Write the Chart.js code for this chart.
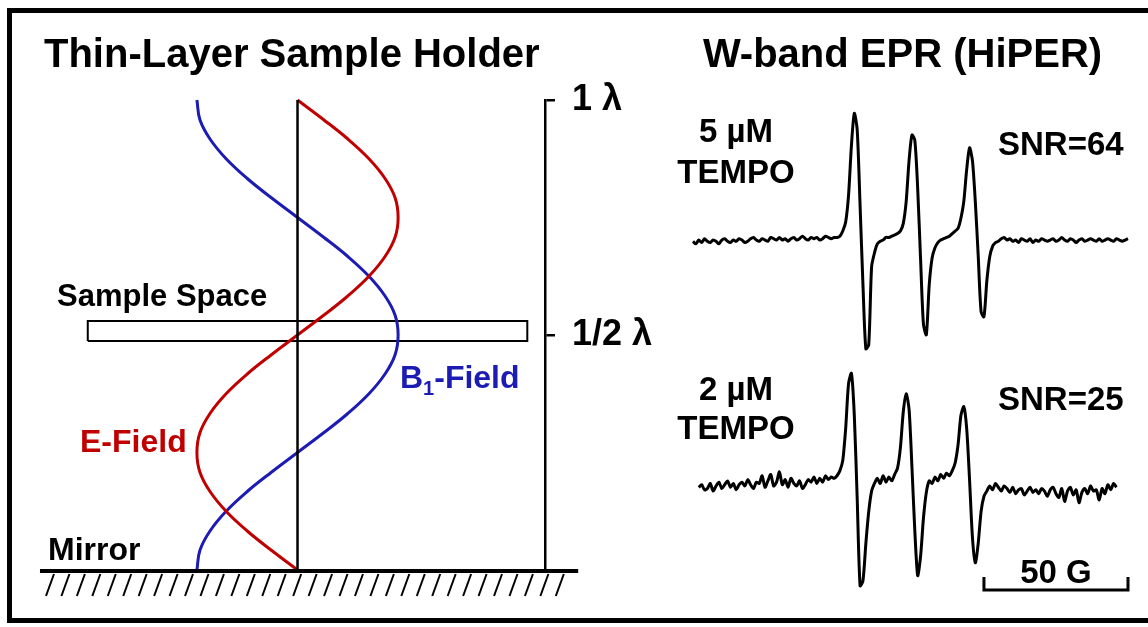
<!DOCTYPE html>
<html>
<head>
<meta charset="utf-8">
<script src="https://cdn.jsdelivr.net/npm/chart.js@4.4.1/dist/chart.umd.min.js"></script>
<style>
  html, body { margin: 0; padding: 0; background: #fff; }
  #wrap { position: relative; width: 1148px; height: 627px; overflow: hidden; }
  #frame { position: absolute; left: 7px; top: 8px; width: 1200px; height: 605px; border: 5px solid #000; }
  #holder { position: absolute; left: 0; top: 0; width: 660px; height: 627px; }
  #epr { position: absolute; left: 660px; top: 0; width: 488px; height: 627px; }
</style>
</head>
<body>
<div id="wrap">
  <div id="frame"></div>
  <div id="holder"><canvas id="holderChart"></canvas></div>
  <div id="epr"><canvas id="eprChart"></canvas></div>
</div>
<script>
// ---- left panel: standing wave in the sample holder ----
// position above the mirror, in wavelengths
const lambdaPos = [0, 0.042, 0.083, 0.125, 0.167, 0.208, 0.25, 0.292, 0.333, 0.375, 0.417, 0.458,
  0.5, 0.542, 0.583, 0.625, 0.667, 0.708, 0.75, 0.792, 0.833, 0.875, 0.917, 0.958, 1]
// relative field amplitude
const eField = [0, -0.26, -0.5, -0.71, -0.87, -0.97, -1, -0.97, -0.87, -0.71, -0.5, -0.26,
  0, 0.26, 0.5, 0.71, 0.87, 0.97, 1, 0.97, 0.87, 0.71, 0.5, 0.26, 0]
const b1Field = [-1, -0.97, -0.87, -0.71, -0.5, -0.26, 0, 0.26, 0.5, 0.71, 0.87, 0.97,
  1, 0.97, 0.87, 0.71, 0.5, 0.26, 0, -0.26, -0.5, -0.71, -0.87, -0.97, -1]
const axisField = [0, 0]
const axisLambda = [0, 1]
// sample space slab (field units x wavelengths)
const sampleField = [-2.085, 2.284, 2.284, -2.085, -2.085]
const sampleLambda = [0.487, 0.487, 0.530, 0.530, 0.487]
const mirrorSpan = [-2.56, 2.79]
const lambdaTicks = [0.5, 1]
const lambdaLabels = ['1/2 λ', '1 λ']

// ---- right panel: W-band EPR spectra, 1 G steps ----
const fieldStep = 1
const top5Start = 0
const tempo5uM = [
  -1, -3, 0, -2, 1, -1, -2, 0, -1, -3,
  0, 1, -1, -2, 0, -1, 1, 0, -2, -1,
  1, 2, 0, -1, 1, 0, -1, 2, 1, 0,
  2, 0, 1, -1, 1, 2, 0, 1, 3, 1,
  0, 2, 1, 2, 0, 1, 3, 2, 1, 2,
  2, 3, 7, 14, 35, 74, 99, 86, 27, -35,
  -85, -82, -21, -10, -3, -1, 0, 2, 2, 3,
  4, 5, 7, 13, 30, 62, 82, 78, 40, -15,
  -66, -74, -35, -14, -6, -2, 0, 1, 2, 3,
  5, 7, 9, 17, 30, 55, 72, 62, 30, -12,
  -56, -60, -32, -13, -5, -2, -1,
  1, 2, 0, 1, -1, 0, -2, 1, 0, -1,
  1, -2, 0, -1, 1, 0, -1, 0, 1, -1,
  0, 2, 0, -1, 1, 0, -2, 0, 1, -1,
  0, 1, 0, -1, 1, -1, 0, 1, 0, -1,
  1, 0, -1, 0, 1
]
const bot2Start = 2
const tempo2uM = [
  -1, 1, -3, -2, 2, -4, 0, 3, -2, 1,
  4, -1, 2, -3, 1, 3, 0, 5, 1, -2,
  3, 2, 8, -1, 4, 9, 0, 3, 11, 1,
  5, -1, 6, 2, 0, 4, -2, 1, 5, 3,
  7, 2, 6, 3, 8, 5, 7,
  6, 8, 12, 20, 45, 80, 88, 55, -10, -78,
  -74, -45, -20, -4, 2, 6, 2, 8, 3, 7,
  4, 9, 14, 30, 58, 72, 60, 15, -35, -70,
  -55, -25, -5, 4, 2, 7, 4, 9, 6, 10,
  8, 12, 18, 32, 55, 62, 45, 5, -40, -60,
  -45, -20, -8, -4,
  0, -3, 2, -1, -4, 0, -2, -5, -1, -6,
  -3, -2, -7, -4, -1, -5, -3, -6, -2, -4,
  -8, -3, -1, -6, -9, -2, -12, -4, -1, -7,
  -3, -13, -5, -2, -6, 0, -4, -3, -11, -2,
  -6, 1, -3, 2, -1
]
const scaleBarG = [101, 151]

const FONT = '"Liberation Sans", Arial, sans-serif'

function label(ctx, text, x, y, size, color, align) {
  ctx.font = 'bold ' + size + 'px ' + FONT
  ctx.fillStyle = color || '#000'
  ctx.textAlign = align || 'left'
  ctx.textBaseline = 'alphabetic'
  ctx.fillText(text, x, y)
}

const holderDecor = {
  id: 'holderDecor',
  afterDraw(chart) {
    const { ctx, scales: { x, y } } = chart
    const y0 = y.getPixelForValue(0)
    const xl = x.getPixelForValue(mirrorSpan[0])
    const xr = x.getPixelForValue(mirrorSpan[1])
    ctx.save()
    ctx.strokeStyle = '#000'
    ctx.lineWidth = 4
    ctx.beginPath()
    ctx.moveTo(xl, y0 + 1)
    ctx.lineTo(xr, y0 + 1)
    ctx.stroke()
    // hatching under the mirror
    ctx.lineWidth = 2
    for (let hx = xl + 6; hx < xr - 20; hx += 15.45) {
      ctx.beginPath()
      ctx.moveTo(hx + 8, y0 + 4)
      ctx.lineTo(hx, y0 + 26)
      ctx.stroke()
    }
    label(ctx, 'Sample Space', 57, 306, 31)
    label(ctx, 'Mirror', 48, 560, 32)
    label(ctx, 'E-Field', 80, 452, 32, '#c00000')
    // B1-Field with subscript
    const blue = '#1c1cb4'
    label(ctx, 'B', 400, 388, 32, blue)
    let w = ctx.measureText('B').width
    label(ctx, '1', 400 + w, 395, 20, blue)
    w += ctx.measureText('1').width
    label(ctx, '-Field', 400 + w, 388, 32, blue)
    ctx.restore()
  }
}

const holder = new Chart(document.getElementById('holderChart'), {
  type: 'scatter',
  data: {
    datasets: [
      {
        label: 'axis',
        data: axisField.map((v, i) => ({ x: v, y: axisLambda[i] })),
        borderColor: '#000',
        borderWidth: 2.5,
      },
      {
        label: 'E-Field',
        data: lambdaPos.map((z, i) => ({ x: eField[i], y: z })),
        borderColor: '#c00000',
        borderWidth: 3,
        tension: 0.4,
      },
      {
        label: 'B1-Field',
        data: lambdaPos.map((z, i) => ({ x: b1Field[i], y: z })),
        borderColor: '#1c1cb4',
        borderWidth: 3,
        tension: 0.4,
      },
      {
        label: 'Sample Space',
        data: sampleField.map((v, i) => ({ x: v, y: sampleLambda[i] })),
        borderColor: '#000',
        borderWidth: 2,
      },
    ].map(d => Object.assign({ showLine: true, pointRadius: 0, clip: false }, d)),
  },
  options: {
    responsive: true,
    maintainAspectRatio: false,
    animation: false,
    devicePixelRatio: 1,
    layout: { padding: { left: 44, right: 0, top: 32, bottom: 57 } },
    plugins: {
      legend: { display: false },
      tooltip: { enabled: false },
      title: {
        display: true,
        text: 'Thin-Layer Sample Holder',
        align: 'start',
        color: '#000',
        font: { family: FONT, size: 40, weight: 'bold' },
        padding: { top: 0, bottom: 20 },
      },
    },
    scales: {
      x: { type: 'linear', min: -2.52, max: 2.46, display: false },
      y: {
        type: 'linear',
        position: 'right',
        min: 0,
        max: 1,
        afterBuildTicks: s => { s.ticks = lambdaTicks.map(v => ({ value: v })) },
        afterFit: s => { s.width = 115 },
        ticks: {
          callback: (v, i) => lambdaLabels[i],
          color: '#000',
          font: { family: FONT, size: 36, weight: 'bold' },
          padding: 17,
        },
        grid: { drawOnChartArea: false, drawTicks: true, tickLength: 10, color: '#000', lineWidth: 2.5 },
        border: { display: true, color: '#000', width: 2.5 },
      },
    },
  },
  plugins: [holderDecor],
})

const eprDecor = {
  id: 'eprDecor',
  afterDraw(chart) {
    const { ctx, scales: { x } } = chart
    ctx.save()
    label(ctx, '5 µM', 76, 142, 33, '#000', 'center')
    label(ctx, 'TEMPO', 76, 183, 33, '#000', 'center')
    label(ctx, 'SNR=64', 338, 155, 33)
    label(ctx, '2 µM', 76, 400, 33, '#000', 'center')
    label(ctx, 'TEMPO', 76, 439, 33, '#000', 'center')
    label(ctx, 'SNR=25', 338, 410, 33)
    // 50 G scale bar
    const a = x.getPixelForValue(scaleBarG[0])
    const b = x.getPixelForValue(scaleBarG[1])
    const yb = 590
    ctx.strokeStyle = '#000'
    ctx.lineWidth = 3
    ctx.beginPath()
    ctx.moveTo(a, yb - 13)
    ctx.lineTo(a, yb)
    ctx.lineTo(b, yb)
    ctx.lineTo(b, yb - 13)
    ctx.stroke()
    label(ctx, (scaleBarG[1] - scaleBarG[0]) + ' G', (a + b) / 2, 583, 33, '#000', 'center')
    ctx.restore()
  }
}

const epr = new Chart(document.getElementById('eprChart'), {
  type: 'scatter',
  data: {
    datasets: [
      {
        label: '5 µM TEMPO',
        data: tempo5uM.map((v, i) => ({ x: top5Start + i * fieldStep, y: v })),
        yAxisID: 'yTop',
      },
      {
        label: '2 µM TEMPO',
        data: tempo2uM.map((v, i) => ({ x: bot2Start + i * fieldStep, y: v })),
        yAxisID: 'yBot',
      },
    ].map(d => Object.assign({
      showLine: true, pointRadius: 0, clip: false, borderColor: '#000',
      borderWidth: 3, tension: 0.25, borderJoinStyle: 'round',
    }, d)),
  },
  options: {
    responsive: true,
    maintainAspectRatio: false,
    animation: false,
    devicePixelRatio: 1,
    layout: { padding: { left: 17, right: 20, top: 32, bottom: 17 } },
    plugins: {
      legend: { display: false },
      tooltip: { enabled: false },
      title: {
        display: true,
        text: 'W-band EPR (HiPER)',
        color: '#000',
        font: { family: FONT, size: 40, weight: 'bold' },
        padding: { top: 0, bottom: 20 },
      },
    },
    scales: {
      x: { type: 'linear', min: -5.55, max: 151, display: false },
      yTop: { type: 'linear', min: -289.06, max: 109.38, display: false },
      yBot: { type: 'linear', min: -96.88, max: 301.56, display: false },
    },
  },
  plugins: [eprDecor],
})
</script>
</body>
</html>
